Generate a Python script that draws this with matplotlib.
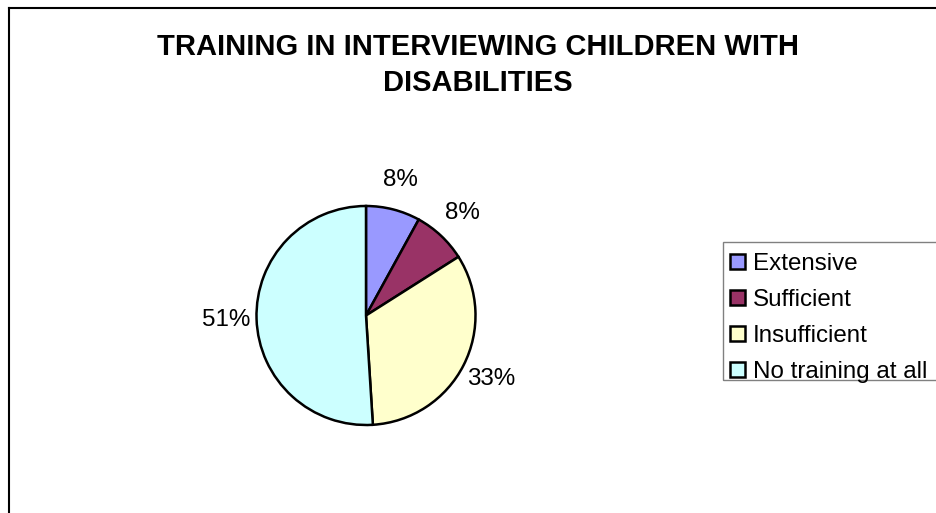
import matplotlib
matplotlib.use("Agg")
import matplotlib.pyplot as plt
from matplotlib.lines import Line2D
from matplotlib.patches import Rectangle

plt.rcParams["font.family"] = ["Liberation Sans", "DejaVu Sans"]

TITLE = "TRAINING IN INTERVIEWING CHILDREN WITH\nDISABILITIES"
categories = ["Extensive", "Sufficient", "Insufficient", "No training at all"]
shares = [8, 8, 33, 51]
colors = ["#9999FF", "#993366", "#FFFFCC", "#CCFFFF"]

W, H = 937, 513
fig = plt.figure(figsize=(W / 100, H / 100), dpi=100)

# chart area border (runs off the right and bottom edges)
fig.add_artist(Line2D([9 / W, 1.05], [1 - 7.5 / H] * 2, color="black", lw=1.5,
                      transform=fig.transFigure))
fig.add_artist(Line2D([9 / W] * 2, [-0.05, 1 - 7.5 / H], color="black", lw=1.5,
                      transform=fig.transFigure))

fig.text(478 / W, 1 - 33 / H, TITLE, ha="center", va="top", fontsize=21,
         fontweight="bold", linespacing=1.35)

# pie: centre (366, 315) px, radius 109.5 px
cx, cy, r = 366, 315.5, 109.5
ax = fig.add_axes([(cx - r) / W, 1 - (cy + r) / H, 2 * r / W, 2 * r / H])
wedges, _, pct = ax.pie(shares, colors=colors, startangle=90, counterclock=False,
                        autopct="%.0f%%", pctdistance=1.28,
                        wedgeprops=dict(edgecolor="black", linewidth=1.8),
                        textprops=dict(fontsize=17.4))
ax.set_xlim(-1, 1)
ax.set_ylim(-1, 1)
ax.axis("off")

# legend box drawn separately so it can run past the right edge
fig.add_artist(Rectangle((723 / W, 1 - 380 / H), 0.3, 138 / H, fill=False,
                         edgecolor="#808080", lw=1.0, transform=fig.transFigure))
leg = fig.legend(wedges, categories, loc="upper left",
                 bbox_to_anchor=(723 / W, 1 - 246 / H),
                 bbox_transform=fig.transFigure, borderaxespad=0,
                 fontsize=17.4, handlelength=0.6, handleheight=0.6,
                 handletextpad=0.35, borderpad=0.3, labelspacing=0.58,
                 frameon=False)

fig.savefig("out.png", dpi=100)
